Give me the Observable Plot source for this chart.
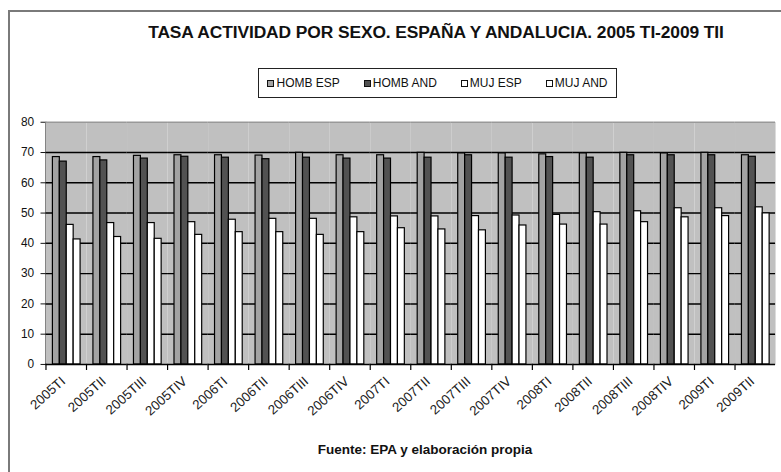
<!DOCTYPE html>
<html>
<head>
<meta charset="utf-8">
<script src="https://cdn.jsdelivr.net/npm/d3@7"></script>
<script src="https://cdn.jsdelivr.net/npm/@observablehq/plot@0.6"></script>
<style>
  html, body { margin: 0; padding: 0; background: #fff; }
  #wrap { position: relative; width: 781px; height: 472px; overflow: hidden; background: #fff; font-family: Arial, "Liberation Sans", sans-serif; }
  #border { position: absolute; left: 8px; top: 10px; width: 820px; height: 520px; border: 2px solid #7a7a7a; box-sizing: border-box; }
  #title { position: absolute; left: 0; width: 872px; top: 22px; line-height: 20px; text-align: center; font-weight: bold; font-size: 17.4px; letter-spacing: -0.1px; color: #111; white-space: nowrap; }
  #legend { position: absolute; left: 258px; top: 68px; width: 359px; height: 30px; border: 1.5px solid #222; box-sizing: border-box; display: flex; align-items: center; justify-content: center; gap: 24px; font-size: 12px; color: #111; }
  #legend .item { display: flex; align-items: center; gap: 2px; white-space: nowrap; }
  #legend .sw { width: 5px; height: 5px; border: 1.5px solid #111; display: inline-block; }
  #chart { position: absolute; left: 0; top: 100px; }
  #caption { position: absolute; left: 0; width: 850px; top: 442px; text-align: center; font-weight: bold; font-size: 13.5px; color: #111; }
</style>
</head>
<body>
<div id="wrap">
  <div id="border"></div>
  <div id="title"></div>
  <div id="legend"></div>
  <div id="chart"></div>
  <div id="caption"></div>
</div>
<script>
const titleText = "TASA ACTIVIDAD POR SEXO. ESPAÑA Y ANDALUCIA. 2005 TI-2009 TII";
const captionText = "Fuente: EPA y elaboración propia";
const categories = ["2005TI","2005TII","2005TIII","2005TIV","2006TI","2006TII","2006TIII","2006TIV","2007TI","2007TII","2007TIII","2007TIV","2008TI","2008TII","2008TIII","2008TIV","2009TI","2009TII"];
const seriesNames = ["HOMB ESP","HOMB AND","MUJ ESP","MUJ AND"];
const seriesColors = ["#a3a3a3","#525252","#ffffff","#ffffff"];
const hombEsp = [68.5,68.5,68.9,69.1,69.1,69.0,69.9,69.1,69.1,69.9,69.7,69.7,69.4,69.7,69.9,69.7,69.9,69.1];
const hombAnd = [67.0,67.4,68.0,68.6,68.3,67.8,68.3,68.0,68.0,68.3,69.1,68.3,68.5,68.3,69.1,69.1,69.1,68.6];
const mujEsp  = [46.1,46.7,46.7,47.0,47.8,48.1,48.1,48.6,48.9,48.9,49.0,49.2,49.4,50.3,50.6,51.6,51.6,51.9];
const mujAnd  = [41.3,42.1,41.5,42.8,43.7,43.7,42.8,43.7,45.0,44.6,44.3,45.9,46.2,46.2,47.0,48.6,49.0,49.9];
const yTicks = [0,10,20,30,40,50,60,70,80];
const gridValues = [10,20,30,40,50,60,70];

const seriesValues = [hombEsp, hombAnd, mujEsp, mujAnd];
const data = categories.flatMap((c, i) => seriesNames.map((s, j) => ({cat: c, series: s, value: seriesValues[j][i]})));

document.getElementById("title").textContent = titleText;
document.getElementById("caption").textContent = captionText;
const legend = document.getElementById("legend");
seriesNames.forEach((s, j) => {
  const it = document.createElement("span");
  it.className = "item";
  const sw = document.createElement("span");
  sw.className = "sw";
  sw.style.background = seriesColors[j];
  it.appendChild(sw);
  it.appendChild(document.createTextNode(s));
  legend.appendChild(it);
});

const chart = Plot.plot({
  width: 790,
  height: 330,
  marginLeft: 45,
  marginRight: 5,
  marginTop: 22,
  marginBottom: 63,
  style: {fontFamily: "Arial, 'Liberation Sans', sans-serif", fontSize: "12px", color: "#111", background: "transparent", overflow: "visible"},
  fx: {domain: categories, padding: 0, label: null},
  x: {domain: seriesNames, paddingInner: 0, paddingOuter: 0.74, axis: null},
  y: {domain: [0, 80], ticks: yTicks, tickSize: 5, tickPadding: 7, label: null, line: true},
  color: {domain: seriesNames, range: seriesColors},
  marks: [
    Plot.frame({fill: "#c0c0c0", stroke: "none"}),
    Plot.ruleY(gridValues, {stroke: "#000", strokeWidth: 1.5}),
    Plot.ruleY([80], {stroke: "#999", strokeWidth: 1.5}),
    Plot.barY(data, {fx: "cat", x: "series", y: "value", fill: "series", stroke: "#000", strokeWidth: 1.2}),
    Plot.ruleY([0], {stroke: "#000", strokeWidth: 1.5}),
    Plot.frame({anchor: "left", insetTop: 245, insetBottom: -5, stroke: "#000", strokeWidth: 1.2}),
    Plot.axisFx({anchor: "bottom", tickRotate: -42, tickSize: 0, tickPadding: 15, dx: -3, fontSize: 13.5, fill: "#222", label: null})
  ]
});
document.getElementById("chart").appendChild(chart);
</script>
</body>
</html>
